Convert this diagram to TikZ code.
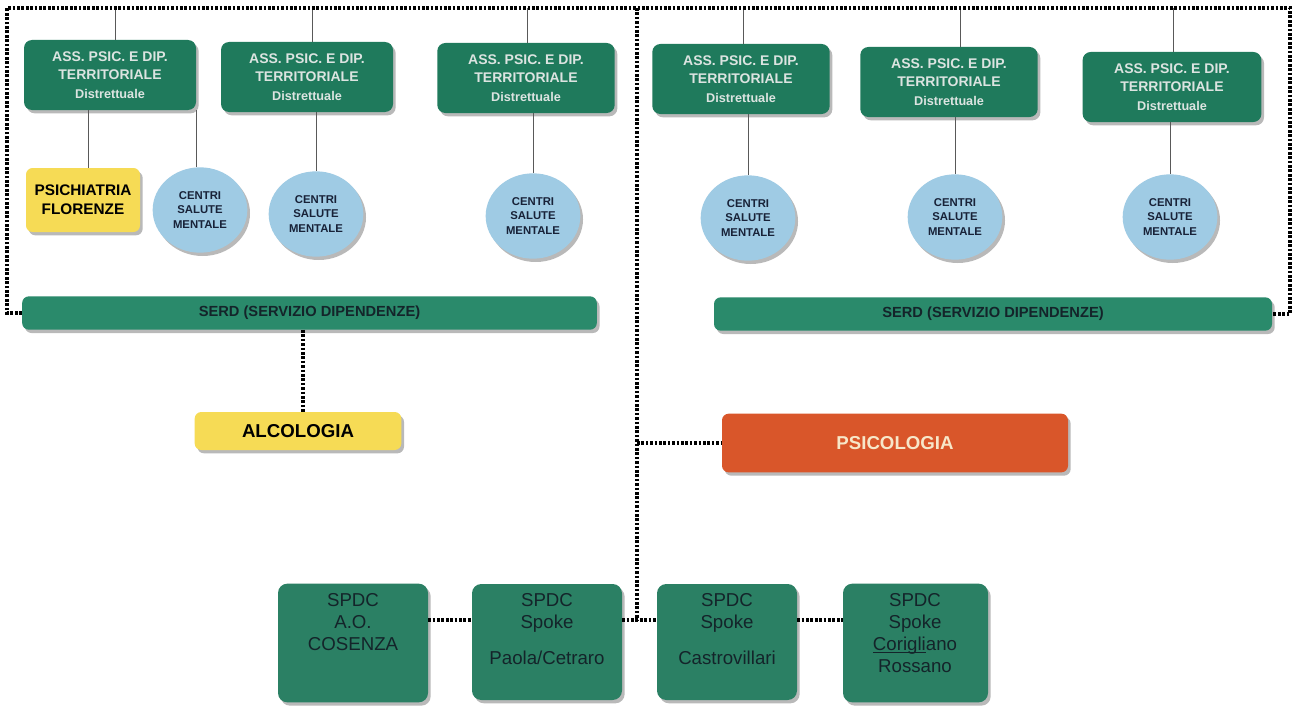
\documentclass[tikz,border=0pt]{standalone}
\usepackage{fontspec}
\setmainfont{Liberation Sans}
\usetikzlibrary{shapes.geometric,shadows}
\definecolor{assgreen}{HTML}{1F7A5C}
\definecolor{serdgreen}{HTML}{2A8A6B}
\definecolor{spdcgreen}{HTML}{2B8064}
\definecolor{csmblue}{HTML}{9FCBE4}
\definecolor{yell}{HTML}{F6DB55}
\definecolor{psico}{HTML}{D9562A}
\definecolor{asstext}{HTML}{DCE4E1}
\definecolor{darktxt}{HTML}{14242A}
\definecolor{navytxt}{HTML}{182238}
\definecolor{creamtxt}{HTML}{F7E7C9}
\tikzset{
  x=0.75pt, y=-0.75pt,
  shad/.style={drop shadow={opacity=0.55, shadow xshift=2pt, shadow yshift=-2.5pt}},
  assbox/.style={shad, rectangle, rounded corners=6pt, fill=assgreen, minimum width=129pt, minimum height=52.5pt,
    text=asstext, font=\bfseries\fontsize{10.5}{14}\selectfont, align=center, inner sep=1pt},
  csm/.style={shad, ellipse, fill=csmblue, minimum width=71pt, minimum height=64pt, inner sep=0pt,
    text=navytxt, font=\bfseries\fontsize{8.5}{10.8}\selectfont, align=center},
  serd/.style={shad, rectangle, rounded corners=5pt, fill=serdgreen, minimum height=25pt, inner sep=0pt,
    text=darktxt, font=\bfseries\fontsize{11}{12}\selectfont},
  yellbox/.style={shad, rectangle, rounded corners=5pt, fill=yell, text=black, inner sep=0pt, align=center},
  spdcbox/.style={shad, rectangle, rounded corners=7pt, fill=spdcgreen, minimum height=88pt, inner sep=0pt},
  spdctext/.style={anchor=north, text=darktxt, font=\fontsize{14}{16.5}\selectfont, align=center, inner sep=0pt},
  thinline/.style={draw=black!65, line width=0.5pt},
  dots/.style={draw=black, line width=2.4pt, dash pattern=on 2pt off 1.3pt},
}
\begin{document}
\begin{tikzpicture}
\useasboundingbox (0,0) rectangle (1301,710);
\fill[white] (0,0) rectangle (1301,710);

% frame coordinates
\coordinate (fTL) at (7,8);
\coordinate (fTR) at (1290,8);
\coordinate (fM) at (637,8);
\coordinate (m) at (637,620);
\coordinate (ak) at (303,0);

% ASS boxes
\node[assbox] (a1) at (110,75) {ASS. PSIC. E DIP.\\TERRITORIALE\\{\fontsize{9.5}{14}\selectfont Distrettuale}};
\node[assbox] (a2) at (307,77) {ASS. PSIC. E DIP.\\TERRITORIALE\\{\fontsize{9.5}{14}\selectfont Distrettuale}};
\node[assbox, minimum width=133pt] (a3) at (526,78) {ASS. PSIC. E DIP.\\TERRITORIALE\\{\fontsize{9.5}{14}\selectfont Distrettuale}};
\node[assbox, minimum width=133pt] (a4) at (741,79) {ASS. PSIC. E DIP.\\TERRITORIALE\\{\fontsize{9.5}{14}\selectfont Distrettuale}};
\node[assbox, minimum width=133pt] (a5) at (949,82) {ASS. PSIC. E DIP.\\TERRITORIALE\\{\fontsize{9.5}{14}\selectfont Distrettuale}};
\node[assbox, minimum width=134pt] (a6) at (1172,87) {ASS. PSIC. E DIP.\\TERRITORIALE\\{\fontsize{9.5}{14}\selectfont Distrettuale}};

% second row
\node[yellbox, minimum width=85.5pt, minimum height=48pt, font=\bfseries\fontsize{11.5}{14}\selectfont] (psi) at (83,200) {PSICHIATRIA\\FLORENZE};
\node[csm] (c1) at (200,210) {CENTRI\\SALUTE\\MENTALE};
\node[csm] (c2) at (316,214) {CENTRI\\SALUTE\\MENTALE};
\node[csm] (c3) at (533,216) {CENTRI\\SALUTE\\MENTALE};
\node[csm] (c4) at (748,218) {CENTRI\\SALUTE\\MENTALE};
\node[csm] (c5) at (955,217) {CENTRI\\SALUTE\\MENTALE};
\node[csm] (c6) at (1170,217) {CENTRI\\SALUTE\\MENTALE};

% SERD bars
\node[serd, minimum width=431pt] (serdL) at (309.5,313) {SERD (SERVIZIO DIPENDENZE)};
\node[serd, minimum width=418.5pt] (serdR) at (993,314) {SERD (SERVIZIO DIPENDENZE)};

% Alcologia / Psicologia
\node[yellbox, minimum width=155pt, minimum height=28.5pt, font=\bfseries\fontsize{14}{16}\selectfont] (alc) at (298,431) {ALCOLOGIA};
\node[shad, rectangle, rounded corners=5pt, fill=psico, minimum width=259.5pt, minimum height=44pt, text=creamtxt,
  font=\bfseries\fontsize{14}{16}\selectfont] (psy) at (895,443) {PSICOLOGIA};

% SPDC boxes
\node[spdcbox, minimum width=112.5pt, minimum height=89pt] (s1) at (353,643) {};
\node[spdcbox, minimum width=112.5pt, minimum height=87pt] (s2) at (547,642) {};
\node[spdcbox, minimum width=105pt, minimum height=87pt] (s3) at (727,642) {};
\node[spdcbox, minimum width=108.75pt, minimum height=89pt] (s4) at (915.5,643) {};
\node[spdctext] (s1t) at (353,593) {SPDC\\A.O.\\COSENZA};
\node[spdctext] (s2t) at (547,593) {SPDC\\Spoke\\[11pt]Paola/Cetraro};
\node[spdctext] (s3t) at (727,593) {SPDC\\Spoke\\[11pt]Castrovillari};
\node[spdctext] (s4t) at (915,593) {SPDC\\Spoke\\\underline{\smash{Corigli}}ano\\Rossano};

% thin connectors from frame to ASS boxes
\foreach \n/\xx in {a1/115, a2/312, a3/527, a4/743, a5/960, a6/1173}{
  \draw[thinline] (\xx,8) -- (\n.north -| {(\xx,0)});
}
% thin connectors from ASS to second row
\draw[thinline] (a1.south -| {(88,0)}) -- (psi.north -| {(88,0)});
\draw[thinline] (a1.south -| {(196,0)}) -- (c1.north -| {(196,0)});
\draw[thinline] (a2.south -| c2) -- (c2.north);
\draw[thinline] (a3.south -| c3) -- (c3.north);
\draw[thinline] (a4.south -| c4) -- (c4.north);
\draw[thinline] (a5.south -| c5) -- (c5.north);
\draw[thinline] (a6.south -| c6) -- (c6.north);

% dotted frame
\draw[dots] (serdL.west) -| (fTL) -- (fTR) |- (serdR.east);
\draw[dots] (fM) -- (m);
\draw[dots] (serdL.south -| ak) -- (alc.north -| ak);
\draw[dots] (psy.west -| fM) -- (psy.west);
\draw[dots] (s1.east |- m) -- (s2.west |- m);
\draw[dots] (s2.east |- m) -- (s3.west |- m);
\draw[dots] (s3.east |- m) -- (s4.west |- m);
\end{tikzpicture}
\end{document}
